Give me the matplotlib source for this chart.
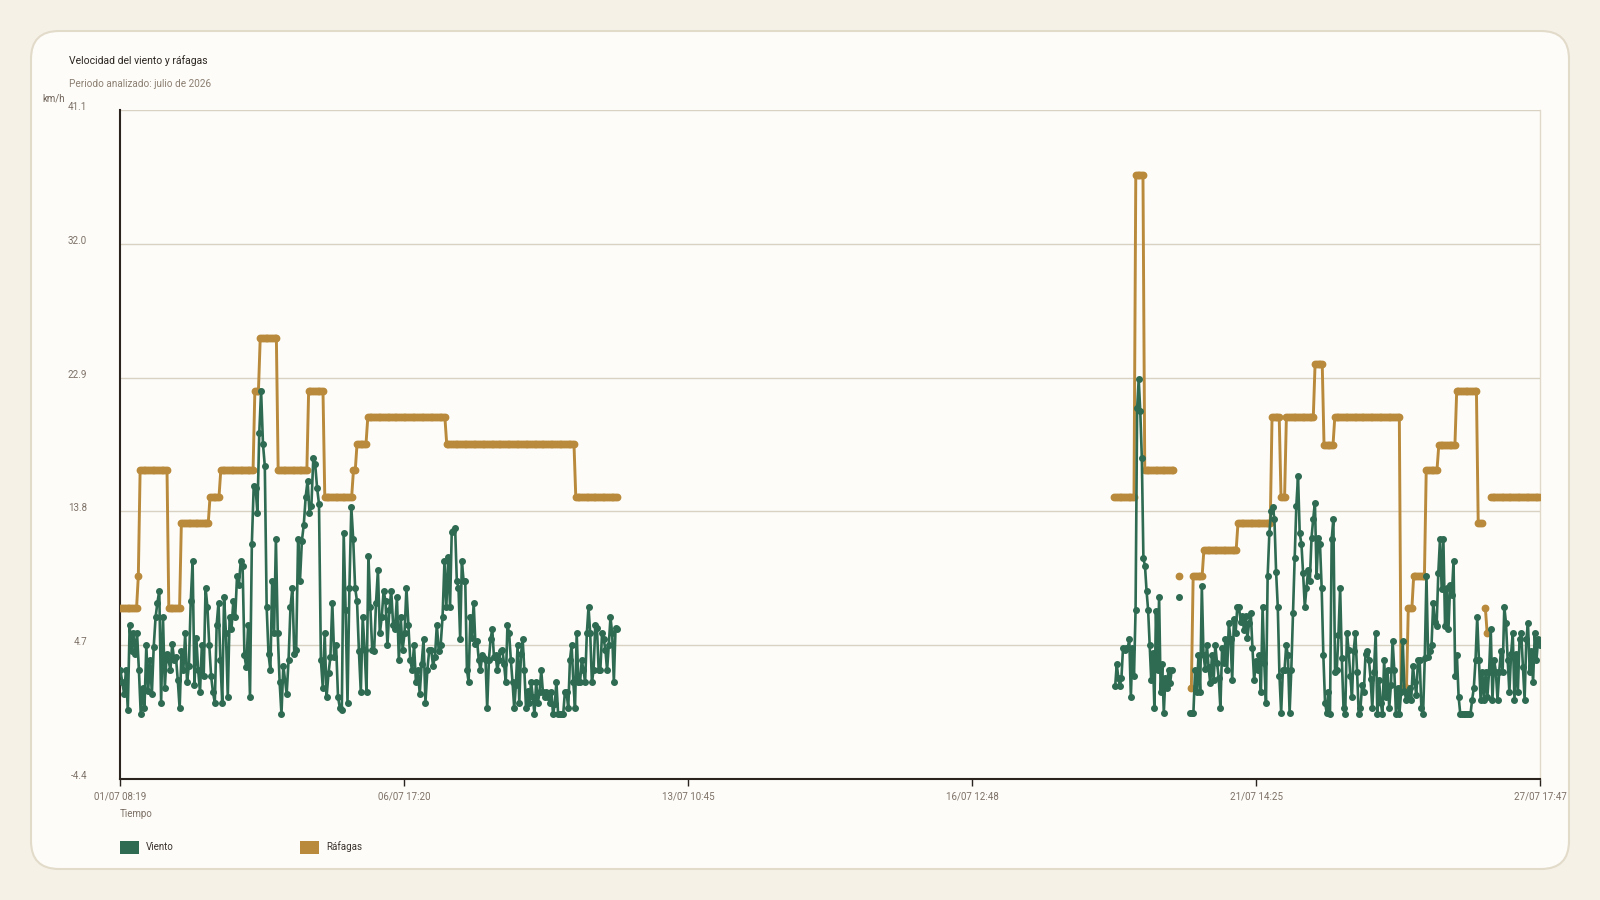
import numpy as np
import matplotlib
matplotlib.use('Agg')
import matplotlib.pyplot as plt
from matplotlib.patches import FancyBboxPatch, Rectangle
from matplotlib.transforms import IdentityTransform

plt.rcParams['font.family'] = ['Roboto', 'DejaVu Sans']

# wind readings (km/h), each block spans first -> last reading, hours since 01/07 08:19
wind_spans_h = [(0.0, 72.7), (74.2, 146.3), (147.1, 221.7),
                (443.9, 469.1), (472.2, 472.2), (477.3, 538.3), (539.0, 633.4)]
wind_break_after = [False, False, True, True, True, False, True]

wind_01 = [3.0, 2.2, 1.4, 3.0, 0.3, 6.1, 4.3, 5.5, 4.1, 5.5,
           3.0, 0.0, 1.8, 0.4, 4.7, 1.6, 3.7, 1.4, 4.6, 6.6,
           7.6, 8.4, 0.8, 6.6, 1.8, 4.1, 3.7, 3.0, 4.8, 3.7,
           3.9, 2.3, 0.4, 4.3, 3.0, 5.5, 2.2, 3.3, 7.7, 10.4,
           2.0, 5.2, 3.0, 1.5, 4.7, 2.6, 8.6, 7.3, 4.7, 2.6,
           1.5, 0.8, 6.1, 7.6, 3.7, 0.8, 8.0, 5.5, 1.2, 6.6,
           5.8, 7.7, 6.6, 9.4, 8.8, 10.4, 10.1, 4.0, 3.2, 6.1,
           1.2, 11.6, 15.5, 15.4, 13.7, 19.1, 22.0, 18.4, 16.9, 7.3,
           4.1, 3.0, 9.1, 5.5, 11.9, 5.5, 2.2, 0.0, 3.3]
wind_02 = [1.4, 3.7, 7.3, 8.6, 4.1, 4.4, 11.9, 9.1, 11.8, 12.9,
           14.8, 15.9, 13.7, 14.2, 17.4, 17.0, 15.4, 14.3, 3.7, 1.8,
           5.5, 1.2, 2.8, 3.9, 7.6, 3.9, 4.7, 1.2, 0.4, 0.3,
           12.3, 7.1, 0.8, 8.6, 14.1, 11.9, 8.6, 7.7, 4.3, 1.5,
           6.6, 4.4, 1.5, 10.8, 7.3, 4.4, 4.3, 7.6, 9.8, 5.5,
           6.6, 8.4, 7.7, 4.7, 7.1, 8.4, 6.1, 5.8, 8.0, 3.7,
           6.6, 4.4, 5.5, 8.6, 6.1, 3.7, 3.0, 4.7, 2.2, 3.0,
           1.4, 3.4, 5.1, 0.8, 3.0, 4.4, 4.4, 3.3, 3.9, 6.1,
           4.3, 4.7, 6.6, 10.4, 7.3, 10.7]
wind_03 = [7.3, 12.4, 12.5, 12.7, 9.1, 8.6, 5.1, 10.4, 9.1, 9.1,
           3.0, 2.2, 6.6, 5.2, 7.6, 4.8, 5.0, 3.7, 3.0, 4.0,
           3.8, 3.7, 0.4, 3.7, 5.1, 5.8, 3.9, 4.0, 3.0, 3.7,
           4.3, 4.4, 3.4, 2.2, 6.1, 5.5, 3.7, 2.2, 0.4, 2.0,
           4.7, 0.8, 4.1, 5.1, 3.0, 0.4, 1.6, 0.8, 2.2, 1.2,
           0.0, 2.2, 0.8, 1.5, 3.0, 1.5, 1.2, 1.5, 1.2, 0.8,
           1.5, 0.0, 0.7, 2.2, 0.0, 0.0, 0.0, 0.0, 1.5, 1.5,
           0.4, 3.7, 4.7, 2.2, 0.4, 5.5, 2.2, 2.2, 3.7, 3.0,
           2.2, 5.5, 7.3, 5.5, 2.2, 3.0, 6.1, 5.9, 3.0, 3.0,
           5.5, 5.1, 4.4, 3.0, 4.7, 6.6, 5.5, 2.2, 5.9, 5.8]
wind_04 = [1.9, 3.4, 2.5, 1.9, 2.5, 4.5, 4.4, 4.5, 4.5, 5.1,
           1.2, 4.5, 2.6, 7.1, 20.8, 22.8, 20.6, 17.4, 10.6, 10.1,
           8.4, 7.1, 4.7, 2.3, 4.2, 0.4, 7.0, 3.0, 8.0, 1.5,
           3.4, 0.1, 2.5, 1.8, 3.0, 2.1, 3.0]
wind_05 = [8.0]
wind_06 = [0.1, 0.1, 0.1, 3.0, 1.5, 4.0, 1.5, 8.7, 4.0, 3.1,
           4.7, 3.2, 2.1, 4.0, 2.3, 4.7, 3.5, 2.5, 0.4, 4.5,
           3.5, 5.1, 3.0, 6.2, 5.1, 2.3, 6.5, 5.5, 7.3, 7.3,
           6.3, 6.7, 5.7, 6.7, 5.2, 6.2, 6.9, 4.5, 2.3, 3.6,
           3.0, 4.0, 1.5, 7.3, 3.5, 0.8, 9.4, 12.3, 13.8, 14.1,
           13.3, 9.7, 7.3, 2.6, 0.1, 3.0, 3.0, 4.7, 4.0, 0.1,
           3.0, 6.9, 10.6, 14.2, 16.2, 12.3, 11.6, 9.6, 7.3, 8.6,
           9.8, 9.1, 12.0, 13.3, 14.4, 9.4, 12.0, 11.6, 8.6, 4.0,
           0.8, 0.1]
wind_07 = [1.5, 0.0, 11.9, 13.3, 2.9, 3.0, 5.4, 8.6, 3.8, 0.4,
           0.0, 5.5, 4.4, 2.6, 1.2, 4.3, 5.5, 2.9, 0.0, 0.4,
           2.0, 1.5, 4.1, 4.3, 3.7, 2.4, 0.4, 2.9, 5.5, 0.0,
           2.3, 0.8, 0.0, 3.7, 1.2, 3.0, 0.4, 2.0, 5.0, 3.0,
           0.0, 1.8, 0.0, 1.5, 5.0, 1.6, 1.0, 1.3, 1.8, 1.0,
           3.3, 2.2, 1.3, 3.7, 3.7, 0.4, 0.0, 3.8, 9.4, 3.9,
           4.3, 4.7, 7.6, 6.3, 6.0, 9.6, 11.9, 8.5, 11.9, 6.0,
           8.6, 5.8, 8.8, 8.1, 10.4, 2.6, 4.0, 1.2, 0.0, 0.0,
           0.0, 0.0, 0.0, 0.0, 0.0, 1.0, 1.8, 3.7, 6.6, 3.7,
           1.0, 2.9, 1.0, 2.9, 1.2, 2.9, 5.8, 1.0, 3.7, 2.9,
           1.0, 2.9, 4.3, 2.9, 7.3, 6.2, 3.7, 1.5, 4.1, 5.5,
           1.0, 4.1, 1.5, 5.1, 5.5, 3.2, 1.0, 5.1, 6.2, 2.9,
           4.3, 2.2, 5.5, 3.7, 5.1, 4.7]
wind_blocks = [wind_01, wind_02, wind_03, wind_04, wind_05, wind_06, wind_07]

# gusts: held value from each change time (hours), nan = no reading
gust_spans_h = [(0.0, 221.7), (443.5, 633.5)]
gust_interval_h = 0.8
gust_change_h = [0.0, 7.6, 8.6, 21.5, 26.6, 39.6, 44.8, 60.0, 62.0, 70.4,
                 84.0, 91.0, 104.0, 105.0, 109.8, 145.5, 203.0,
                 443.5, 452.8, 457.0, 470.0, 472.0, 472.6, 477.6, 478.6,
                 483.0, 498.3, 513.2, 517.9, 519.6, 532.5, 536.5, 541.3,
                 571.2, 574.0, 577.0, 582.5, 588.0, 596.0, 605.3, 607.6,
                 608.4, 609.2, 610.0, 610.8]
gust_level = [7.2, 9.4, 16.6, 7.2, 13.0, 14.8, 16.6, 22.0, 25.6, 16.6,
              22.0, 14.8, 16.6, 18.4, 20.2, 18.4, 14.8,
              14.8, 36.7, 16.6, np.nan, 9.4, np.nan, 1.8, 9.4,
              11.2, 13.0, 20.2, 14.8, 20.2, 23.8, 18.3, 20.2,
              1.8, 7.2, 9.4, 16.6, 18.3, 22.0, 13.0, np.nan,
              7.2, 5.5, np.nan, 14.8]

y_ticks = [-4.4, 4.7, 13.8, 22.9, 32.0, 41.1]
x_tick_labels = ['01/07 08:19', '06/07 17:20', '13/07 10:45',
                 '16/07 12:48', '21/07 14:25', '27/07 17:47']
total_h = 633.47

GREEN = '#2e6b52'
GOLD = '#b98a3b'

# build series
wt, wv = [], []
for (a, b), vals, brk in zip(wind_spans_h, wind_blocks, wind_break_after):
    wt.append(np.linspace(a, b, len(vals)))
    wv.append(np.asarray(vals, float))
    if brk:
        wt.append([b]); wv.append([np.nan])
wt = np.concatenate(wt); wv = np.concatenate(wv)

gt, gv = [], []
lv = np.array(gust_level, float)
for a, b in gust_spans_h:
    t = np.arange(a, b + 1e-6, gust_interval_h)
    idx = np.searchsorted(gust_change_h, t, side='right') - 1
    gt.append(t); gv.append(lv[idx])
    gt.append([b]); gv.append([np.nan])
gt = np.concatenate(gt); gv = np.concatenate(gv)

fig = plt.figure(figsize=(16, 9), dpi=100, facecolor='#f5f1e7')
card = FancyBboxPatch((31, 31), 1538, 838, boxstyle='round,pad=0,rounding_size=28',
                      transform=IdentityTransform(), facecolor='#fdfcf8',
                      edgecolor='#e2dbca', linewidth=1.5, zorder=0)
fig.add_artist(card)

ax = fig.add_axes([120.4 / 1600, 1 - 779 / 900, (1540 - 120.4) / 1600, (779 - 110) / 900])
ax.set_facecolor('none')
ax.plot(gt, gv, color=GOLD, lw=2.1, marker='o', ms=4.6, mec=GOLD, mfc=GOLD, zorder=3)
ax.plot(wt, wv, color=GREEN, lw=1.9, marker='o', ms=4.0, mec=GREEN, mfc=GREEN, zorder=4)

ax.set_xlim(0, total_h)
ax.set_ylim(y_ticks[0], y_ticks[-1])
ax.set_yticks(y_ticks)
ax.set_yticklabels(['%.1f' % v for v in y_ticks])
ax.set_xticks(np.linspace(0, total_h, len(x_tick_labels)))
ax.set_xticklabels(x_tick_labels)
ax.grid(axis='y', color='#d9d2c2', lw=1.0, zorder=1)
ax.set_axisbelow(True)
ax.spines['top'].set_visible(False)
ax.spines['right'].set_color('#e0d9c9')
ax.spines['right'].set_linewidth(1.0)
ax.spines['left'].set_color('#2b231d')
ax.spines['left'].set_linewidth(1.5)
ax.spines['bottom'].set_color('#2b231d')
ax.spines['bottom'].set_linewidth(1.5)
ax.tick_params(axis='y', length=0, pad=24, labelsize=7, labelcolor='#7d7167')
ax.tick_params(axis='x', length=5, width=1, color='#2b231d', pad=4, labelsize=7,
               labelcolor='#7d7167')
for lab in ax.get_yticklabels():
    lab.set_verticalalignment('baseline')

fig.text(69 / 1600, 1 - 61 / 900, 'Velocidad del viento y ráfagas', fontsize=7.5,
         color='#2b2520', va='center', ha='left')
fig.text(69 / 1600, 1 - 84 / 900, 'Periodo analizado: julio de 2026', fontsize=7.2,
         color='#8c7f72', va='center', ha='left')
fig.text(42 / 1600, 1 - 98 / 900, 'km/h', fontsize=7, color='#6e6258', va='center', ha='left')
fig.text(120 / 1600, 1 - 814 / 900, 'Tiempo', fontsize=7, color='#7d7167', va='center',
         ha='left')

# legend
for x0, col, name in [(120, GREEN, 'Viento'), (300, GOLD, 'Ráfagas')]:
    fig.add_artist(Rectangle((x0 / 1600, 1 - 854 / 900), 19 / 1600, 13 / 900,
                             transform=fig.transFigure, facecolor=col, edgecolor='none'))
    fig.text((x0 + 26) / 1600, 1 - 847 / 900, name, fontsize=7, color='#3a322c',
             va='center', ha='left')

fig.savefig('out.png', dpi=100, facecolor=fig.get_facecolor())
